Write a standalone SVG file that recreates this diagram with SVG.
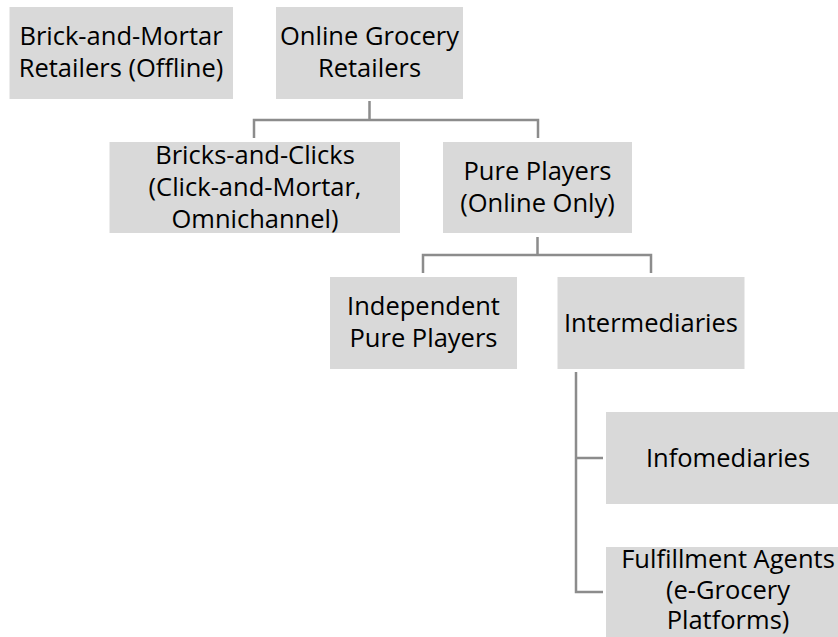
<svg xmlns="http://www.w3.org/2000/svg" width="838" height="637" viewBox="0 0 838 637">
  <style>
    .box { fill: #d9d9d9; }
    .lbl { font-family: "Open Sans", "Liberation Sans", sans-serif; font-size: 25.5px; fill: #000; text-anchor: middle; }
    .conn { fill: none; stroke: #8c8c8c; stroke-width: 2.5; }
  </style>
  <rect width="838" height="637" fill="#ffffff"/>

  <g id="connectors">
    <path class="conn" d="M369.5 101 V120 H254 V138 M369.5 120 H538 V138"/>
    <path class="conn" d="M537.5 237 V255 H423 V273 M537.5 255 H651 V273"/>
    <path class="conn" d="M576 372 V592 H603 M576 458 H603"/>
  </g>

  <g id="brick-and-mortar">
    <rect class="box" x="9.5" y="7" width="223.5" height="92"/>
    <text class="lbl" x="121" y="45">Brick-and-Mortar</text>
    <text class="lbl" x="121" y="77">Retailers (Offline)</text>
  </g>

  <g id="online-grocery">
    <rect class="box" x="276" y="7" width="187" height="92"/>
    <text class="lbl" x="369.5" y="45">Online Grocery</text>
    <text class="lbl" x="369.5" y="77">Retailers</text>
  </g>

  <g id="bricks-and-clicks">
    <rect class="box" x="109.5" y="142" width="290.5" height="91"/>
    <text class="lbl" x="255" y="163.5">Bricks-and-Clicks</text>
    <text class="lbl" x="255" y="195.5">(Click-and-Mortar,</text>
    <text class="lbl" x="255" y="227.5">Omnichannel)</text>
  </g>

  <g id="pure-players">
    <rect class="box" x="443" y="142" width="189" height="91"/>
    <text class="lbl" x="537.5" y="179.5">Pure Players</text>
    <text class="lbl" x="537.5" y="211.5">(Online Only)</text>
  </g>

  <g id="independent">
    <rect class="box" x="330" y="277" width="187" height="92"/>
    <text class="lbl" x="423.5" y="315">Independent</text>
    <text class="lbl" x="423.5" y="347">Pure Players</text>
  </g>

  <g id="intermediaries">
    <rect class="box" x="557.5" y="277" width="187" height="92"/>
    <text class="lbl" x="651" y="331.5">Intermediaries</text>
  </g>

  <g id="infomediaries">
    <rect class="box" x="606" y="412" width="244" height="92"/>
    <text class="lbl" x="728" y="466.5">Infomediaries</text>
  </g>

  <g id="fulfillment">
    <rect class="box" x="606" y="547" width="244" height="100"/>
    <text class="lbl" x="728" y="568">Fulfillment Agents</text>
    <text class="lbl" x="728" y="599">(e-Grocery</text>
    <text class="lbl" x="728" y="629">Platforms)</text>
  </g>
</svg>
